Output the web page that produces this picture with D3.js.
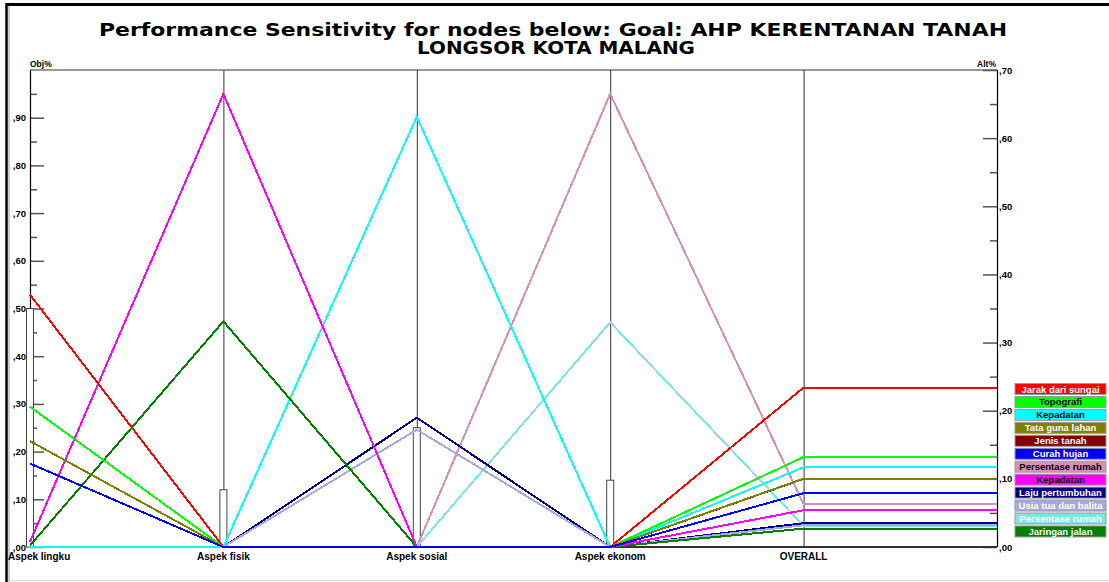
<!DOCTYPE html>
<html>
<head>
<meta charset="utf-8">
<title>Performance Sensitivity</title>
<script src="https://cdn.jsdelivr.net/npm/d3@7"></script>
<style>
    body { margin: 0; background: #fff; }
    #chart-area { width: 1109px; height: 582px; }
    svg text { font-family: "Liberation Sans", Arial, sans-serif; font-weight: bold; }
</style>
</head>
<body>
<div id="chart-area"></div>
<script>

// Criteria (Obj% axis) and their weights (the little white bars)
var criteria = ["Aspek lingku", "Aspek fisik", "Aspek sosial", "Aspek ekonom"];
var criteriaWeights = [0.50, 0.12, 0.25, 0.14];

// Alternatives in model order - later ones are drawn on top
var alternatives = ["Persentase rumah", "Persentase rumah", "Laju pertumbuhan", "Usia tua dan balita",
    "Kepadatan", "Jaringan jalan", "Kepadatan", "Jarak dari sungai", "Topografi", "Jenis tanah",
    "Tata guna lahan", "Curah hujan"];

// Priority of each alternative under each criterion (Obj%)
var lingkuValues = [0, 0, 0, 0, 0, 0.003, 0.011, 0.529, 0.294, 0.222, 0.222, 0.175];
var fisikValues  = [0, 0, 0, 0, 0, 0.473, 0.950, 0, 0, 0, 0, 0];
var sosialValues = [0, 0, 0.271, 0.246, 0.902, 0, 0, 0, 0, 0, 0, 0];
var ekonomValues = [0.950, 0.471, 0, 0, 0, 0, 0, 0, 0, 0, 0, 0];

// Overall priority (Alt%)
var overallValues = [0.0625, 0.031, 0.035, 0.032, 0.117, 0.027, 0.054, 0.234, 0.132, 0.1000, 0.1003, 0.079];

// Tick labels
var objTickValues = [0, 0.1, 0.2, 0.3, 0.4, 0.5, 0.6, 0.7, 0.8, 0.9];
var objTickLabels = [",00", ",10", ",20", ",30", ",40", ",50", ",60", ",70", ",80", ",90"];
var altTickValues = [0, 0.1, 0.2, 0.3, 0.4, 0.5, 0.6, 0.7];
var altTickLabels = [",00", ",10", ",20", ",30", ",40", ",50", ",60", ",70"];

// colours, same order as alternatives
var altColors = ["#d890b8", "#80e4e4", "#000080", "#a8a8e0", "#00ffff", "#008000", "#ff00ff",
    "#ff0000", "#00ff00", "#800000", "#808000", "#0000ff"];
var altTextColors = ["#000", "#fff", "#fff", "#fff", "#000", "#fff", "#000",
    "#fff", "#000", "#fff", "#fff", "#fff"];


/*
 *  SensitivityChart - Object constructor function
 */

SensitivityChart = function(_parentElement) {
    this.parentElement = _parentElement;
    this.initVis();
}


/*
 *  Initialize visualization (frame, title, axes)
 */

SensitivityChart.prototype.initVis = function() {
    var vis = this;

    vis.width = 1109;
    vis.height = 582;
    vis.top = 70;
    vis.bottom = 547;
    vis.left = 30;
    vis.right = 997;

    vis.svg = d3.select("#" + vis.parentElement).append("svg")
        .attr("width", vis.width)
        .attr("height", vis.height);

    // outer frame
    vis.svg.append("line").attr("x1", 6).attr("x2", vis.width).attr("y1", 4.5).attr("y2", 4.5)
        .attr("stroke", "#000").attr("stroke-width", 3);
    vis.svg.append("line").attr("x1", 6.5).attr("x2", 6.5).attr("y1", 3).attr("y2", vis.height)
        .attr("stroke", "#000").attr("stroke-width", 2.5);
    vis.svg.append("line").attr("x1", 9).attr("x2", 9).attr("y1", 6).attr("y2", vis.height)
        .attr("stroke", "#999").attr("stroke-width", 1);
    vis.svg.append("line").attr("x1", 8).attr("x2", vis.width).attr("y1", 580.5).attr("y2", 580.5)
        .attr("stroke", "#ddd").attr("stroke-width", 1);

    // title, two lines
    var titleStyle = function(t) {
        t.attr("text-anchor", "middle")
            .attr("lengthAdjust", "spacingAndGlyphs")
            .style("font-family", "'DejaVu Sans', Verdana, sans-serif")
            .style("font-size", "16px");
    };
    vis.svg.append("text").call(titleStyle)
        .attr("x", 553).attr("y", 36.5).attr("textLength", 908)
        .attr("transform", "translate(0,36.5) scale(1,1.15) translate(0,-36.5)")
        .text("Performance Sensitivity for nodes below: Goal: AHP KERENTANAN TANAH");
    vis.svg.append("text").call(titleStyle)
        .attr("x", 556).attr("y", 54.5).attr("textLength", 278)
        .attr("transform", "translate(0,54.5) scale(1,1.15) translate(0,-54.5)")
        .text("LONGSOR KOTA MALANG");

    // scales
    vis.columns = criteria.concat(["OVERALL", ""]);
    vis.x = d3.scalePoint().domain(vis.columns).range([vis.left, vis.right]);
    vis.yObj = d3.scaleLinear().domain([0, 1]).range([vis.bottom, vis.top]);
    vis.yAlt = d3.scaleLinear().domain([0, 0.7]).range([vis.bottom, vis.top]);

    // top grey rule
    vis.svg.append("line")
        .attr("x1", vis.left).attr("x2", vis.right)
        .attr("y1", vis.top).attr("y2", vis.top)
        .attr("stroke", "#999").attr("stroke-width", 2);

    // vertical lines for criteria and overall
    vis.svg.selectAll(".colLine").data(vis.columns.slice(1, 5))
        .enter().append("line")
        .attr("class", "colLine")
        .attr("x1", function(d) { return vis.x(d) + 0.5; })
        .attr("x2", function(d) { return vis.x(d) + 0.5; })
        .attr("y1", vis.top).attr("y2", vis.bottom)
        .attr("stroke", "#333").attr("stroke-width", 1);

    // left axis (Obj%)
    var minorObj = d3.range(1, 20, 2).map(function(d) { return d / 20; });
    vis.svg.append("g").attr("transform", "translate(" + vis.left + ",0)")
        .call(d3.axisRight(vis.yObj).tickValues(objTickValues).tickSize(14).tickFormat(""))
        .call(function(g) { g.select(".domain").remove(); })
        .selectAll("line").attr("stroke", "#555").attr("stroke-width", 1.5);
    vis.svg.append("g").attr("transform", "translate(" + vis.left + ",0)")
        .call(d3.axisRight(vis.yObj).tickValues(minorObj).tickSize(7).tickFormat(""))
        .call(function(g) { g.select(".domain").remove(); })
        .selectAll("line").attr("stroke", "#555").attr("stroke-width", 1.5);
    vis.svg.append("g").attr("transform", "translate(" + (vis.left - 3) + ",0)")
        .call(d3.axisLeft(vis.yObj).tickValues(objTickValues).tickSize(0).tickPadding(1)
            .tickFormat(function(d, i) { return objTickLabels[i]; }))
        .call(function(g) { g.select(".domain").remove(); })
        .selectAll("text").style("font-size", "9.5px").attr("fill", "#000");
    vis.svg.append("line")
        .attr("x1", vis.left + 0.5).attr("x2", vis.left + 0.5)
        .attr("y1", vis.top).attr("y2", vis.bottom)
        .attr("stroke", "#000").attr("stroke-width", 1.2);

    // right axis (Alt%)
    var minorAlt = d3.range(1, 14, 2).map(function(d) { return d / 20; });
    vis.svg.append("g").attr("transform", "translate(" + vis.right + ",0)")
        .call(d3.axisLeft(vis.yAlt).tickValues(altTickValues).tickSize(14).tickFormat(""))
        .call(function(g) { g.select(".domain").remove(); })
        .selectAll("line").attr("stroke", "#555").attr("stroke-width", 1.5);
    vis.svg.append("g").attr("transform", "translate(" + vis.right + ",0)")
        .call(d3.axisLeft(vis.yAlt).tickValues(minorAlt).tickSize(7).tickFormat(""))
        .call(function(g) { g.select(".domain").remove(); })
        .selectAll("line").attr("stroke", "#555").attr("stroke-width", 1.5);
    vis.svg.append("g").attr("transform", "translate(" + (vis.right + 1) + ",0)")
        .call(d3.axisRight(vis.yAlt).tickValues(altTickValues).tickSize(0).tickPadding(1)
            .tickFormat(function(d, i) { return altTickLabels[i]; }))
        .call(function(g) { g.select(".domain").remove(); })
        .selectAll("text").style("font-size", "9.5px").attr("fill", "#000");
    vis.svg.append("line")
        .attr("x1", vis.right + 0.5).attr("x2", vis.right + 0.5)
        .attr("y1", vis.top).attr("y2", vis.bottom)
        .attr("stroke", "#000").attr("stroke-width", 1.2);

    // bottom axis line
    vis.svg.append("line")
        .attr("x1", vis.left).attr("x2", vis.right)
        .attr("y1", vis.bottom).attr("y2", vis.bottom)
        .attr("stroke", "#333").attr("stroke-width", 2);

    // axis titles
    vis.svg.append("text").attr("x", vis.left).attr("y", 67)
        .style("font-size", "8.5px").text("Obj%");
    vis.svg.append("text").attr("x", vis.right - 1).attr("y", 67).attr("text-anchor", "end")
        .style("font-size", "8.5px").text("Alt%");

    // column labels
    vis.svg.selectAll(".colLabel").data(vis.columns.slice(0, 5))
        .enter().append("text")
        .attr("class", "colLabel")
        .attr("x", function(d, i) { return i == 0 ? 8 : vis.x(d); })
        .attr("y", 560)
        .attr("text-anchor", function(d, i) { return i == 0 ? "start" : "middle"; })
        .style("font-size", "10px")
        .text(function(d) { return d; });

    vis.wrangleData();
}


/*
 *  Data wrangling
 */

SensitivityChart.prototype.wrangleData = function() {
    var vis = this;

    var criterionValues = [lingkuValues, fisikValues, sosialValues, ekonomValues];

    vis.displayData = alternatives.map(function(name, i) {
        var pts = criteria.map(function(c, k) {
            return [vis.x(c), vis.yObj(criterionValues[k][i])];
        });
        pts.push([vis.x("OVERALL"), vis.yAlt(overallValues[i])]);
        pts.push([vis.x(""), vis.yAlt(overallValues[i])]);
        return { index: i, name: name, overall: overallValues[i], points: pts };
    });

    // legend is sorted by overall priority
    vis.legendData = vis.displayData.slice().sort(function(a, b) { return b.overall - a.overall; });

    vis.updateVis();
}


/*
 *  The drawing function
 */

SensitivityChart.prototype.updateVis = function() {
    var vis = this;

    // criteria weight bars
    vis.svg.selectAll(".weightBar").data(criteriaWeights)
        .enter().append("rect")
        .attr("class", "weightBar")
        .attr("x", function(d, i) { return vis.x(criteria[i]) - 3.5; })
        .attr("y", function(d) { return vis.yObj(d); })
        .attr("width", 7)
        .attr("height", function(d) { return vis.bottom - vis.yObj(d); })
        .attr("fill", "#fff")
        .attr("stroke", "#444")
        .attr("stroke-width", 1);

    var line = d3.line();

    // old windows style, no antialiasing
    vis.svg.selectAll(".altLine").data(vis.displayData)
        .enter().append("path")
        .attr("class", "altLine")
        .attr("d", function(d) { return line(d.points); })
        .attr("fill", "none")
        .attr("stroke", function(d) { return altColors[d.index]; })
        .attr("stroke-width", 2)
        .attr("shape-rendering", "crispEdges");

    // legend
    var legend = vis.svg.selectAll(".legendItem").data(vis.legendData)
        .enter().append("g")
        .attr("class", "legendItem")
        .attr("transform", function(d, i) { return "translate(1015," + (383.5 + i * 12.95) + ")"; });

    legend.append("rect")
        .attr("width", 91)
        .attr("height", 11)
        .attr("fill", function(d) { return altColors[d.index]; })
        .attr("stroke", "#9a9a9a")
        .attr("stroke-width", 1);

    legend.append("text")
        .attr("x", 45.5)
        .attr("y", 9)
        .attr("text-anchor", "middle")
        .style("font-size", "9.5px")
        .attr("fill", function(d) { return altTextColors[d.index]; })
        .text(function(d) { return d.name; });
}


var chart = new SensitivityChart("chart-area");

</script>
</body>
</html>
